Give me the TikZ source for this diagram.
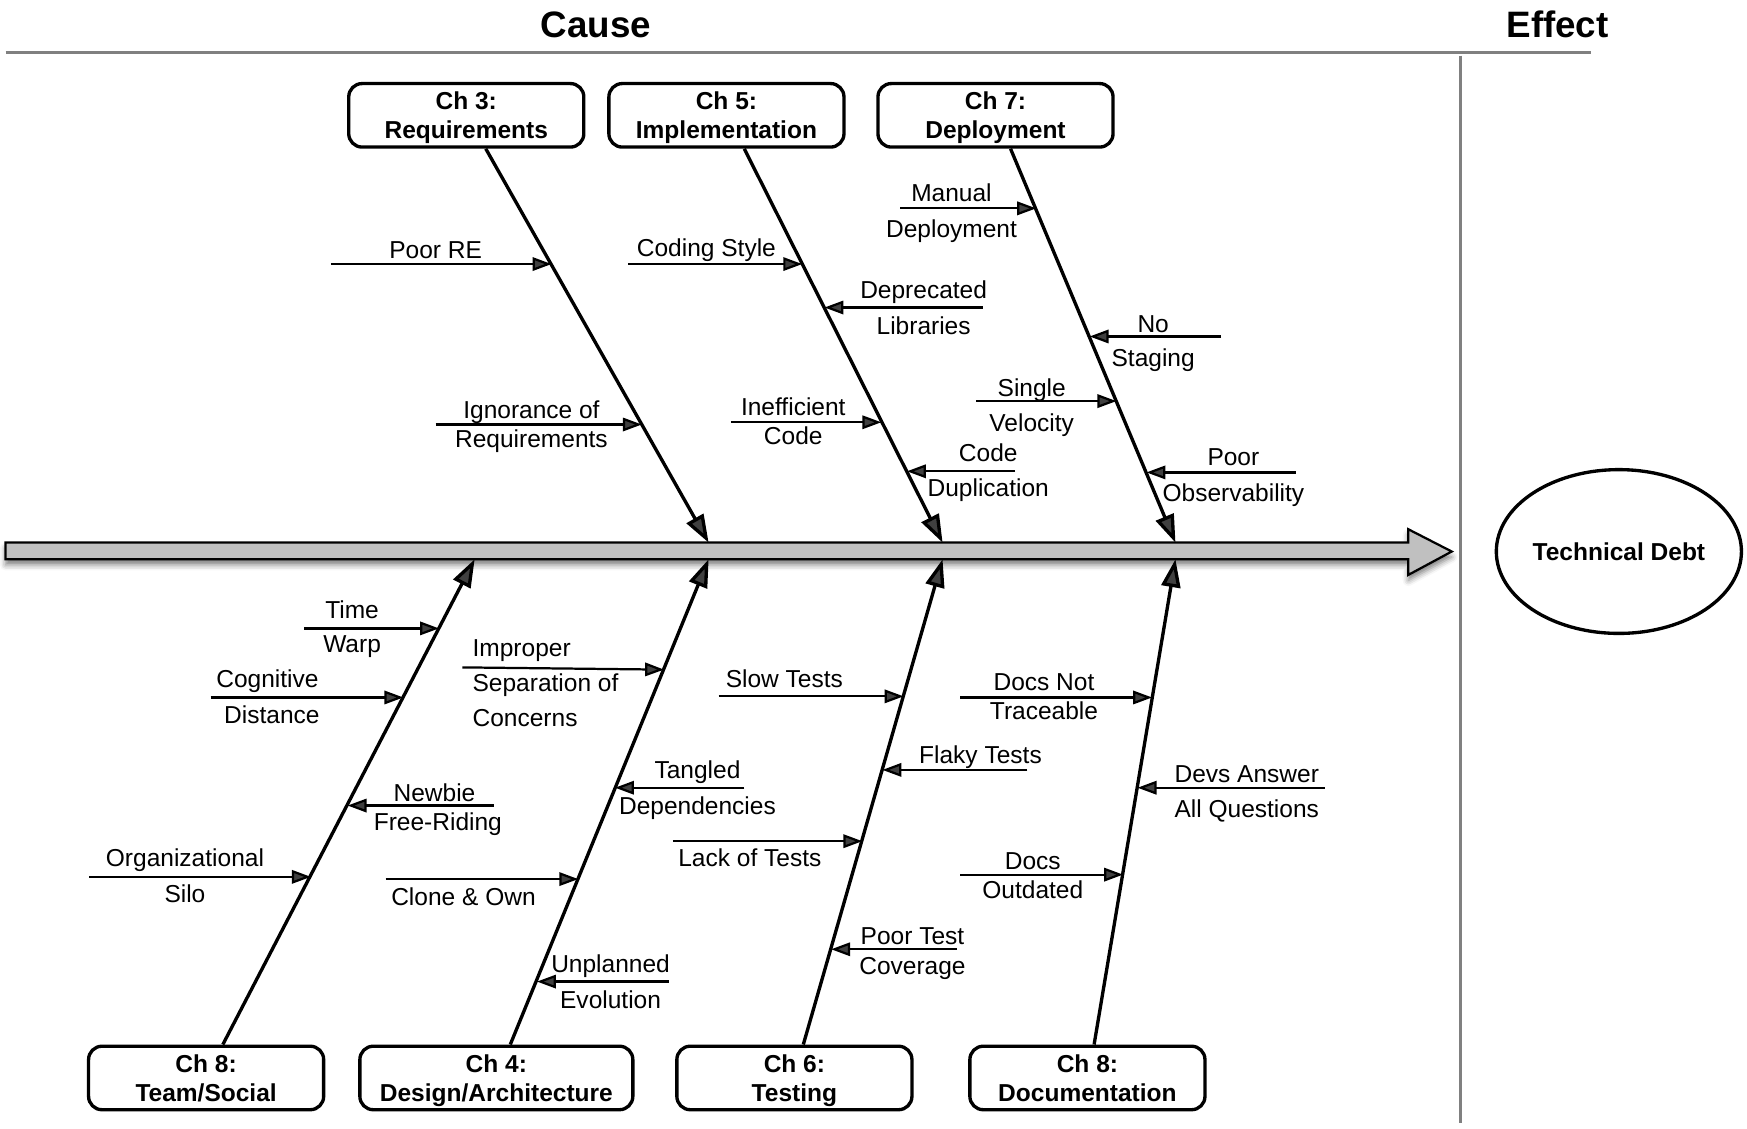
\documentclass[tikz,border=0pt]{standalone}
\usepackage{fontspec}
\setmainfont{Liberation Sans}
\usetikzlibrary{arrows.meta,shapes.geometric,shadows.blur,calc}
\definecolor{spinegray}{RGB}{192,192,192}
\definecolor{guidegray}{RGB}{128,128,128}
\begin{document}
\begin{tikzpicture}[x=1pt,y=-1pt,
  lbl/.style={font=\fontsize{22}{26}\selectfont, inner sep=0pt, anchor=base},
  lbll/.style={lbl, anchor=base west},
  title/.style={font=\bfseries\fontsize{33}{38}\selectfont, inner sep=0pt, anchor=base},
  chbox/.style={draw, line width=3pt, rounded corners=12pt, minimum width=211pt, minimum height=57pt, inner sep=0pt, align=center, text depth=0pt, font=\bfseries\fontsize{22}{26}\selectfont},
  bone/.style={line width=3pt, -{Triangle[length=25pt,width=17pt]}},
  sub/.style={line width=2pt, -{Triangle[length=17pt,width=12pt]}},
  guide/.style={draw=guidegray, line width=3pt},
  effect/.style={draw, ellipse, line width=3pt, minimum width=220pt, minimum height=147pt, inner sep=0pt, font=\bfseries\fontsize{22}{26}\selectfont},
  ]
\useasboundingbox (0,0) rectangle (1568,1013);

% titles and guide lines
\node[title] (cause) at (535,34) {Cause};
\node[title] (effectt) at (1398,34) {Effect};
\coordinate (gl) at (5,47);
\coordinate (gr) at (1428,47);
\coordinate (vt) at (1311,50);
\coordinate (vb) at (1311,1008);
\draw[guide] (gl) -- (gr);
\draw[guide, line width=2.5pt] (vt) -- (vb);

% spine
\path[draw=black, line width=2pt, fill=spinegray, line join=miter,
  blur shadow={shadow xshift=0pt, shadow yshift=-5pt, shadow blur radius=5pt, shadow opacity=50}]
  (5,487) -- (1264,487) -- (1264,475) -- (1303,495) -- (1264,516) -- (1264,502) -- (5,502) -- cycle;
\coordinate (t3) at (636,487);
\coordinate (t5) at (846,487);
\coordinate (t7) at (1055,487);
\coordinate (u8t) at (426,502);
\coordinate (u4) at (636,502);
\coordinate (u6) at (846,502);
\coordinate (u8d) at (1055,502);

% effect
\node[effect] (td) at (1453,495) {Technical Debt};

% category boxes
\node[chbox] (ch3) at (418.5,103.5) {Ch 3:\\Requirements};
\node[chbox] (ch5) at (652,103.5) {Ch 5:\\Implementation};
\node[chbox] (ch7) at (893.5,103.5) {Ch 7:\\Deployment};
\node[chbox] (ch8t) at (185,967.5) {Ch 8:\\Team/Social};
\node[chbox, minimum width=245pt] (ch4) at (445.5,967.5) {Ch 4:\\Design/Architecture};
\node[chbox] (ch6) at (713,967.5) {Ch 6:\\Testing};
\node[chbox] (ch8d) at (976,967.5) {Ch 8:\\Documentation};

% bones
\draw[bone] ($(ch3.south)+(17.5,0)$) -- (t3);
\draw[bone] ($(ch5.south)+(16,0)$) -- (t5);
\draw[bone] ($(ch7.south)+(13.5,0)$) -- (t7);
\draw[bone] ($(ch8t.north)+(15,0)$) -- (u8t);
\draw[bone] ($(ch4.north)+(12.5,0)$) -- (u4);
\draw[bone] ($(ch6.north)+(8,0)$) -- (u6);
\draw[bone] ($(ch8d.north)+(6,0)$) -- (u8d);

% ---- Ch 3 causes
\coordinate (a1s) at (297,237); \coordinate (a1e) at (495,237);
\draw[sub] (a1s) -- (a1e);
\node[lbl] (a1t) at (391,232) {Poor RE};
\coordinate (a2s) at (391,381); \coordinate (a2e) at (576,381);
\draw[sub] (a2s) -- (a2e);
\node[lbl] (a2t) at (477,376) {Ignorance of};
\node[lbl] (a2b) at (477,402) {Requirements};

% ---- Ch 5 causes
\coordinate (b1s) at (564,237); \coordinate (b1e) at (720,237);
\draw[sub] (b1s) -- (b1e);
\node[lbl] (b1t) at (634,230) {Coding Style};
\coordinate (b2s) at (882,276); \coordinate (b2e) at (740,276);
\draw[sub] (b2s) -- (b2e);
\node[lbl] (b2t) at (829,268) {Deprecated};
\node[lbl] (b2b) at (829,300) {Libraries};
\coordinate (b3s) at (656,379); \coordinate (b3e) at (791,379);
\draw[sub] (b3s) -- (b3e);
\node[lbl] (b3t) at (712,373) {Inefficient};
\node[lbl] (b3b) at (712,399) {Code};
\coordinate (b4s) at (911,423); \coordinate (b4e) at (814,423);
\draw[sub] (b4s) -- (b4e);
\node[lbl] (b4t) at (887,414) {Code};
\node[lbl] (b4b) at (887,446) {Duplication};

% ---- Ch 7 causes
\coordinate (c1s) at (808,187); \coordinate (c1e) at (930,187);
\draw[sub] (c1s) -- (c1e);
\node[lbl] (c1t) at (854,181) {Manual};
\node[lbl] (c1b) at (854,213) {Deployment};
\coordinate (c2s) at (1096,302); \coordinate (c2e) at (978,302);
\draw[sub] (c2s) -- (c2e);
\node[lbl] (c2t) at (1035,298) {No};
\node[lbl] (c2b) at (1035,329) {Staging};
\coordinate (c3s) at (876,360); \coordinate (c3e) at (1002,360);
\draw[sub] (c3s) -- (c3e);
\node[lbl] (c3t) at (926,356) {Single};
\node[lbl] (c3b) at (926,387) {Velocity};
\coordinate (c4s) at (1163,424); \coordinate (c4e) at (1029,424);
\draw[sub] (c4s) -- (c4e);
\node[lbl] (c4t) at (1107,418) {Poor};
\node[lbl] (c4b) at (1107,450) {Observability};

% ---- Ch 8 Team/Social causes
\coordinate (d1s) at (273,564); \coordinate (d1e) at (394,564);
\draw[sub] (d1s) -- (d1e);
\node[lbl] (d1t) at (316,555) {Time};
\node[lbl] (d1b) at (316,586) {Warp};
\coordinate (d2s) at (189,626); \coordinate (d2e) at (362,626);
\draw[sub] (d2s) -- (d2e);
\node[lbl] (d2t) at (240,617) {Cognitive};
\node[lbl] (d2b) at (244,649) {Distance};
\coordinate (d3s) at (443,723); \coordinate (d3e) at (312,723);
\draw[sub] (d3s) -- (d3e);
\node[lbl] (d3t) at (390,719) {Newbie};
\node[lbl] (d3b) at (393,745) {Free-Riding};
\coordinate (d4s) at (80,787); \coordinate (d4e) at (279,787);
\draw[sub] (d4s) -- (d4e);
\node[lbl] (d4t) at (166,778) {Organizational};
\node[lbl] (d4b) at (166,810) {Silo};

% ---- Ch 4 causes
\coordinate (e1s) at (415,599); \coordinate (e1e) at (596,601);
\draw[sub] (e1s) -- (e1e);
\node[lbll] (e1t) at (424,589) {Improper};
\node[lbll] (e1m) at (424,621) {Separation of};
\node[lbll] (e1b) at (424,652) {Concerns};
\coordinate (e2s) at (668,707); \coordinate (e2e) at (552,707);
\draw[sub] (e2s) -- (e2e);
\node[lbl] (e2t) at (626,699) {Tangled};
\node[lbl] (e2b) at (626,731) {Dependencies};
\coordinate (e3s) at (346,789); \coordinate (e3e) at (519,789);
\draw[sub] (e3s) -- (e3e);
\node[lbl] (e3b) at (416,813) {Clone \& Own};
\coordinate (e4s) at (600,881); \coordinate (e4e) at (482,881);
\draw[sub] (e4s) -- (e4e);
\node[lbl] (e4t) at (548,873) {Unplanned};
\node[lbl] (e4b) at (548,905) {Evolution};

% ---- Ch 6 causes
\coordinate (f1s) at (645,625); \coordinate (f1e) at (811,625);
\draw[sub] (f1s) -- (f1e);
\node[lbl] (f1t) at (704,617) {Slow Tests};
\coordinate (f2s) at (922,691); \coordinate (f2e) at (792,691);
\draw[sub] (f2s) -- (f2e);
\node[lbl] (f2t) at (880,685) {Flaky Tests};
\coordinate (f3s) at (604,755); \coordinate (f3e) at (774,755);
\draw[sub] (f3s) -- (f3e);
\node[lbl] (f3b) at (673,778) {Lack of Tests};
\coordinate (f4s) at (859,852); \coordinate (f4e) at (746,852);
\draw[sub] (f4s) -- (f4e);
\node[lbl] (f4t) at (819,848) {Poor Test};
\node[lbl] (f4b) at (819,875) {Coverage};

% ---- Ch 8 Documentation causes
\coordinate (g1s) at (862,626); \coordinate (g1e) at (1034,626);
\draw[sub] (g1s) -- (g1e);
\node[lbl] (g1t) at (937,620) {Docs Not};
\node[lbl] (g1b) at (937,646) {Traceable};
\coordinate (g2s) at (1189,707); \coordinate (g2e) at (1021,707);
\draw[sub] (g2s) -- (g2e);
\node[lbl] (g2t) at (1119,702) {Devs Answer};
\node[lbl] (g2b) at (1119,734) {All Questions};
\coordinate (g3s) at (862,785); \coordinate (g3e) at (1008,785);
\draw[sub] (g3s) -- (g3e);
\node[lbl] (g3t) at (927,780) {Docs};
\node[lbl] (g3b) at (927,806) {Outdated};
\end{tikzpicture}
\end{document}
